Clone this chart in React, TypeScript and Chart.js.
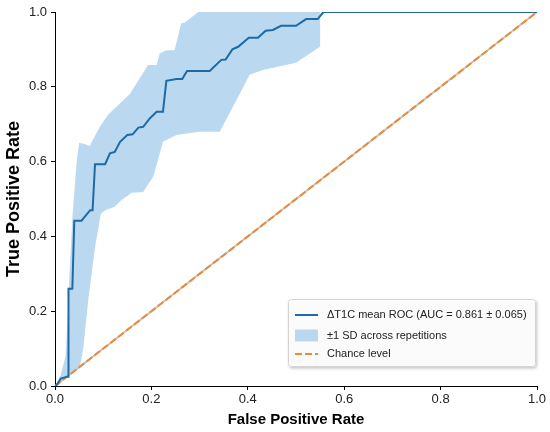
import { useEffect, useRef } from 'react';
import { Chart, registerables } from 'chart.js';

Chart.register(...registerables);

// mean ROC (step-like curve)
const MEAN_FPR = [
  0, 0.005, 0.012, 0.025, 0.028, 0.028, 0.036, 0.04, 0.055, 0.073, 0.078, 0.083, 0.104, 0.114, 0.124,
  0.135, 0.15, 0.161, 0.173, 0.183, 0.197, 0.211, 0.224, 0.231, 0.252, 0.264, 0.274, 0.321, 0.345,
  0.354, 0.368, 0.38, 0.402, 0.421, 0.437, 0.452, 0.469, 0.5, 0.521, 0.545, 0.557, 1.0,
];
const MEAN_TPR = [
  0, 0.005, 0.02, 0.025, 0.025, 0.26, 0.26, 0.442, 0.442, 0.47, 0.47, 0.593, 0.593, 0.622, 0.626,
  0.653, 0.671, 0.673, 0.691, 0.693, 0.716, 0.733, 0.733, 0.816, 0.821, 0.821, 0.842, 0.842, 0.872,
  0.873, 0.9, 0.907, 0.931, 0.931, 0.95, 0.952, 0.963, 0.963, 0.981, 0.981, 1.0, 1.0,
];

// ±1 SD band, upper edge (left to right)
const UPPER_FPR = [
  0, 0.012, 0.022, 0.027, 0.03, 0.036, 0.045, 0.05, 0.06, 0.072, 0.093, 0.11, 0.135, 0.155, 0.193,
  0.211, 0.217, 0.231, 0.248, 0.262, 0.269, 0.297, 0.55,
];
const UPPER_TPR = [
  0, 0.03, 0.08, 0.2, 0.3, 0.45, 0.6, 0.65, 0.648, 0.642, 0.693, 0.725, 0.756, 0.78, 0.858, 0.858,
  0.889, 0.898, 0.898, 0.97, 0.971, 1.0, 1.0,
];

// ±1 SD band, lower edge (left to right)
const LOWER_FPR = [
  0, 0.03, 0.052, 0.059, 0.069, 0.083, 0.095, 0.104, 0.124, 0.138, 0.159, 0.183, 0.204, 0.224, 0.252,
  0.3, 0.342, 0.404, 0.431, 0.5, 0.55,
];
const LOWER_TPR = [
  0, 0.03, 0.052, 0.105, 0.23, 0.37, 0.46, 0.47, 0.479, 0.497, 0.517, 0.519, 0.56, 0.653, 0.671, 0.68,
  0.68, 0.832, 0.845, 0.864, 0.907,
];

const CHANCE = [0, 1];

const AXIS_TICKS = [0, 0.2, 0.4, 0.6, 0.8, 1.0];

const FONT = '"Liberation Sans", Arial, Helvetica, sans-serif';
const BLUE = '#1f6aa5';
const BAND = 'rgba(160, 203, 235, 0.72)';
const ORANGE = '#ee8a35';

const pts = (xs: number[], ys: number[]) => xs.map((x, i) => ({ x, y: ys[i] }));

// closed polygon: upper edge forward, lower edge back
const bandShape = [...pts(UPPER_FPR, UPPER_TPR), ...pts(LOWER_FPR, LOWER_TPR).reverse()];

// legend drawn inside the plot, lower right
const innerLegend = {
  id: 'innerLegend',
  afterDraw(chart: any) {
    const { ctx, chartArea } = chart;
    const w = 248;
    const h = 68;
    const x = chartArea.right - w - 1;
    const y = chartArea.bottom - h - 19;

    ctx.save();
    ctx.shadowColor = 'rgba(0,0,0,0.25)';
    ctx.shadowBlur = 3;
    ctx.shadowOffsetX = 1;
    ctx.shadowOffsetY = 1.5;
    ctx.beginPath();
    ctx.roundRect(x, y, w, h, 3);
    ctx.fillStyle = 'rgba(255,255,255,0.92)';
    ctx.fill();
    ctx.restore();

    ctx.save();
    ctx.beginPath();
    ctx.roundRect(x + 0.5, y + 0.5, w - 1, h - 1, 3);
    ctx.strokeStyle = '#d4d4d4';
    ctx.lineWidth = 1;
    ctx.stroke();

    const items = chart.data.datasets
      .filter((d: any) => d.legendKind)
      .sort((a: any, b: any) => a.legendOrder - b.legendOrder);
    const rows = [16, 36.5, 55];
    const sx = x + 7;
    const sw = 23;
    items.forEach((d: any, i: number) => {
      const cy = y + rows[i];
      if (d.legendKind === 'line') {
        ctx.beginPath();
        ctx.setLineDash(d.borderDash || []);
        ctx.strokeStyle = d.borderColor;
        ctx.lineWidth = d.borderWidth;
        ctx.moveTo(sx, cy);
        ctx.lineTo(sx + sw, cy);
        ctx.stroke();
        ctx.setLineDash([]);
      } else {
        ctx.fillStyle = d.backgroundColor;
        ctx.fillRect(sx, cy - 6, sw, 12);
      }
      ctx.fillStyle = '#222';
      ctx.font = `11px ${FONT}`;
      ctx.textBaseline = 'middle';
      ctx.textAlign = 'left';
      ctx.fillText(d.label, sx + sw + 9, cy);
    });
    ctx.restore();
  },
};

function RocChart() {
  const canvasRef = useRef<HTMLCanvasElement>(null);
  const chartRef = useRef<Chart | null>(null);

  useEffect(() => {
    if (!canvasRef.current) return;
    if (chartRef.current) chartRef.current.destroy();

    chartRef.current = new Chart(canvasRef.current, {
      type: 'scatter',
      data: {
        datasets: [
          {
            label: '±1 SD across repetitions',
            legendKind: 'box',
            legendOrder: 1,
            data: bandShape,
            showLine: true,
            fill: 'shape',
            backgroundColor: BAND,
            borderColor: 'rgba(0,0,0,0)',
            borderWidth: 0,
            pointRadius: 0,
            order: 3,
          },
          {
            label: '',
            data: pts(CHANCE, CHANCE),
            showLine: true,
            borderColor: '#c4c4c4',
            borderWidth: 2,
            pointRadius: 0,
            order: 2,
          },
          {
            label: 'Chance level',
            legendKind: 'line',
            legendOrder: 2,
            data: pts(CHANCE, CHANCE),
            showLine: true,
            borderColor: ORANGE,
            borderWidth: 2,
            borderDash: [7, 3],
            pointRadius: 0,
            order: 1,
          },
          {
            label: 'ΔT1C mean ROC (AUC = 0.861 ± 0.065)',
            legendKind: 'line',
            legendOrder: 0,
            data: pts(MEAN_FPR, MEAN_TPR),
            showLine: true,
            borderColor: BLUE,
            borderWidth: 2,
            pointRadius: 0,
            order: 0,
          },
        ] as any,
      },
      options: {
        animation: false,
        responsive: true,
        maintainAspectRatio: false,
        layout: { padding: { top: 12, right: 13, left: 0, bottom: 0 } },
        plugins: {
          legend: { display: false },
          tooltip: { enabled: false },
        },
        scales: {
          x: {
            type: 'linear',
            min: 0,
            max: 1,
            afterFit: (s: any) => {
              s.height = 46;
            },
            afterBuildTicks: (s: any) => {
              s.ticks = AXIS_TICKS.map((v) => ({ value: v }));
            },
            border: { display: true, color: '#000', width: 1 },
            grid: { drawOnChartArea: false, color: '#000', tickLength: 4 },
            ticks: {
              color: '#222',
              font: { family: FONT, size: 13 },
              padding: 2,
              callback: (v: any) => Number(v).toFixed(1),
            },
            title: {
              display: true,
              text: 'False Positive Rate',
              color: '#000',
              font: { family: FONT, size: 15, weight: 'bold' },
              padding: { top: 0, bottom: 3 },
            },
          },
          y: {
            type: 'linear',
            min: 0,
            max: 1,
            afterFit: (s: any) => {
              s.width = 55;
            },
            afterBuildTicks: (s: any) => {
              s.ticks = AXIS_TICKS.map((v) => ({ value: v }));
            },
            border: { display: true, color: '#000', width: 1 },
            grid: { drawOnChartArea: false, color: '#000', tickLength: 4 },
            ticks: {
              color: '#222',
              font: { family: FONT, size: 13 },
              padding: 4,
              callback: (v: any) => Number(v).toFixed(1),
            },
            title: {
              display: true,
              text: 'True Positive Rate',
              color: '#000',
              font: { family: FONT, size: 18, weight: 'bold' },
              padding: { top: 3, bottom: 0 },
            },
          },
        },
      },
      plugins: [innerLegend],
    });

    return () => {
      chartRef.current?.destroy();
      chartRef.current = null;
    };
  }, []);

  return (
    <div style={{ position: 'fixed', left: 0, top: 0, width: 550, height: 432, background: '#fff' }}>
      <canvas ref={canvasRef} />
    </div>
  );
}

export default function App() {
  return <RocChart />;
}
